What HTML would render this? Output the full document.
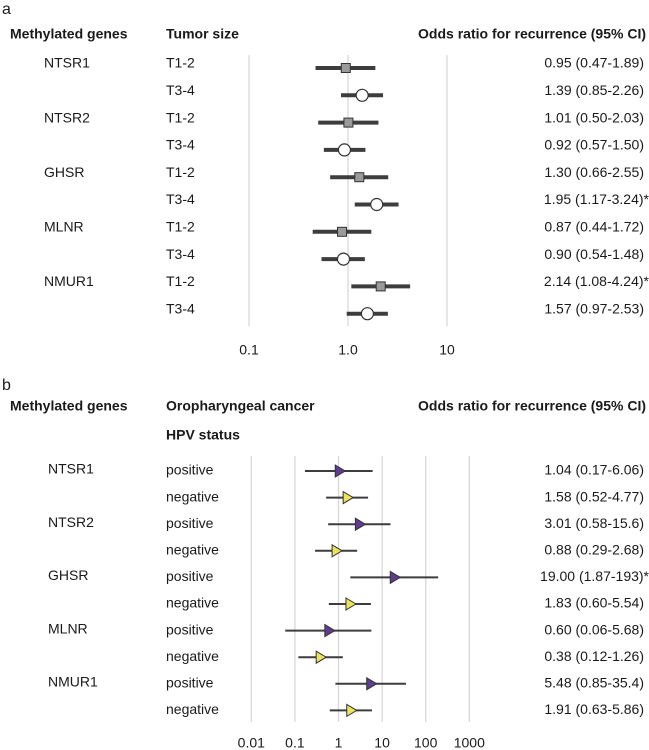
<!DOCTYPE html>
<html><head><meta charset="utf-8"><style>
body{margin:0;background:#fff;}
svg{display:block;font-family:"Liberation Sans",Arial,sans-serif;}
</style></head><body>
<svg id="c" width="649" height="750" viewBox="0 0 649 750"></svg>
<script>
// Panel a data
const aGenes = ["NTSR1","NTSR2","GHSR","MLNR","NMUR1"];
const aGroups = ["T1-2","T3-4"];
const aOR = [0.95,1.39,1.01,0.92,1.30,1.95,0.87,0.90,2.14,1.57];
const aLo = [0.47,0.85,0.50,0.57,0.66,1.17,0.44,0.54,1.08,0.97];
const aHi = [1.89,2.26,2.03,1.50,2.55,3.24,1.72,1.48,4.24,2.53];
const aLabels = ["0.95 (0.47-1.89)","1.39 (0.85-2.26)","1.01 (0.50-2.03)","0.92 (0.57-1.50)","1.30 (0.66-2.55)","1.95 (1.17-3.24)*","0.87 (0.44-1.72)","0.90 (0.54-1.48)","2.14 (1.08-4.24)*","1.57 (0.97-2.53)"];
const aTicks = [0.1,1,10];
const aTickLabels = ["0.1","1.0","10"];
// Panel b data
const bGenes = ["NTSR1","NTSR2","GHSR","MLNR","NMUR1"];
const bGroups = ["positive","negative"];
const bOR = [1.04,1.58,3.01,0.88,19.00,1.83,0.60,0.38,5.48,1.91];
const bLo = [0.17,0.52,0.58,0.29,1.87,0.60,0.06,0.12,0.85,0.63];
const bHi = [6.06,4.77,15.6,2.68,193,5.54,5.68,1.26,35.4,5.86];
const bLabels = ["1.04 (0.17-6.06)","1.58 (0.52-4.77)","3.01 (0.58-15.6)","0.88 (0.29-2.68)","19.00 (1.87-193)*","1.83 (0.60-5.54)","0.60 (0.06-5.68)","0.38 (0.12-1.26)","5.48 (0.85-35.4)","1.91 (0.63-5.86)"];
const bTicks = [0.01,0.1,1,10,100,1000];
const bTickLabels = ["0.01","0.1","1","10","100","1000"];

const svg=document.getElementById('c');
const NS="http://www.w3.org/2000/svg";
function el(tag,attrs,parent){const e=document.createElementNS(NS,tag);for(const k in attrs)e.setAttribute(k,attrs[k]);(parent||svg).appendChild(e);return e;}
function txt(x,y,s,opts,parent){const t=el('text',Object.assign({x:x,y:y,'font-size':14,fill:'#1a1a1a','dominant-baseline':'middle'},opts||{}),parent);t.textContent=s;return t;}

// axis functions
const ax=v=>348+99*Math.log10(v);
const ay=i=>68+i*27.3;
const bx=v=>338.5+43.6*Math.log10(v);
const by=i=>471+i*26.6;

// ---- Panel a ----
const ga=el('g',{});


let t=txt(2,10,"a",{'font-size':16},ga);
t=txt(10,35,"Methylated genes",{'font-weight':'bold'},ga);
t=txt(166,35,"Tumor size",{'font-weight':'bold'},ga);
t=txt(646,35,"Odds ratio for recurrence (95% CI)",{'font-weight':'bold','text-anchor':'end'},ga);
aTicks.forEach((v,i)=>{
  const l=el('line',{x1:ax(v),x2:ax(v),y1:55,y2:326,stroke:'#d8d8d8','stroke-width':1.3},ga);
  
  
  const tl=txt(ax(v),351,aTickLabels[i],{'text-anchor':'middle'},ga);
  
  
});
aGenes.forEach((g,i)=>{
  const tg=txt(44,ay(i*2)-4,g,{},ga);
  
  
});
aOR.forEach((v,i)=>{
  const y=ay(i);
  const tg=txt(166,y-4,aGroups[i%2],{},ga);
  
  
  const ln=el('line',{x1:ax(aLo[i]),x2:ax(aHi[i]),y1:y,y2:y,stroke:'#3d3d3d','stroke-width':4},ga);
  
  
  let m;
  if(i%2===0){m=el('rect',{x:ax(v)-4.5,y:y-4.5,width:9,height:9,fill:'#9a9a9a',stroke:'#333','stroke-width':1},ga);}
  else{m=el('circle',{cx:ax(v),cy:y,r:6,fill:'#fff',stroke:'#333','stroke-width':1.2},ga);}
  
  
  const vl=txt(aLabels[i].endsWith('*')?649:644,y-4,aLabels[i],{'text-anchor':'end'},ga);
  
  
});

// ---- Panel b ----
const gb=el('g',{});


t=txt(2,386,"b",{'font-size':16},gb);
t=txt(10,407,"Methylated genes",{'font-weight':'bold'},gb);
t=txt(166,407,"Oropharyngeal cancer",{'font-weight':'bold'},gb);
t=txt(166,436,"HPV status",{'font-weight':'bold'},gb);
t=txt(646,407,"Odds ratio for recurrence (95% CI)",{'font-weight':'bold','text-anchor':'end'},gb);
bTicks.forEach((v,i)=>{
  const l=el('line',{x1:bx(v),x2:bx(v),y1:456,y2:722,stroke:'#d8d8d8','stroke-width':1.3},gb);
  
  
  const tl=txt(bx(v),744,bTickLabels[i],{'text-anchor':'middle'},gb);
  
  
});
bGenes.forEach((g,i)=>{
  const tg=txt(48,by(i*2)-1,g,{},gb);
  
  
});
bOR.forEach((v,i)=>{
  const y=by(i);
  const tg=txt(166,y,bGroups[i%2],{},gb);
  
  
  const ln=el('line',{x1:bx(bLo[i]),x2:bx(bHi[i]),y1:y,y2:y,stroke:'#3d3d3d','stroke-width':2},gb);
  
  
  const cx=bx(v);
  const m=el('polygon',{points:`${cx-4},${y-6} ${cx+6},${y} ${cx-4},${y+6}`,fill:i%2===0?'#5e3d91':'#ece35c',stroke:'#333','stroke-width':1},gb);
  
  
  const vl=txt(bLabels[i].endsWith('*')?649:644,y,bLabels[i],{'text-anchor':'end'},gb);
  
  
});
</script>
</body></html>
